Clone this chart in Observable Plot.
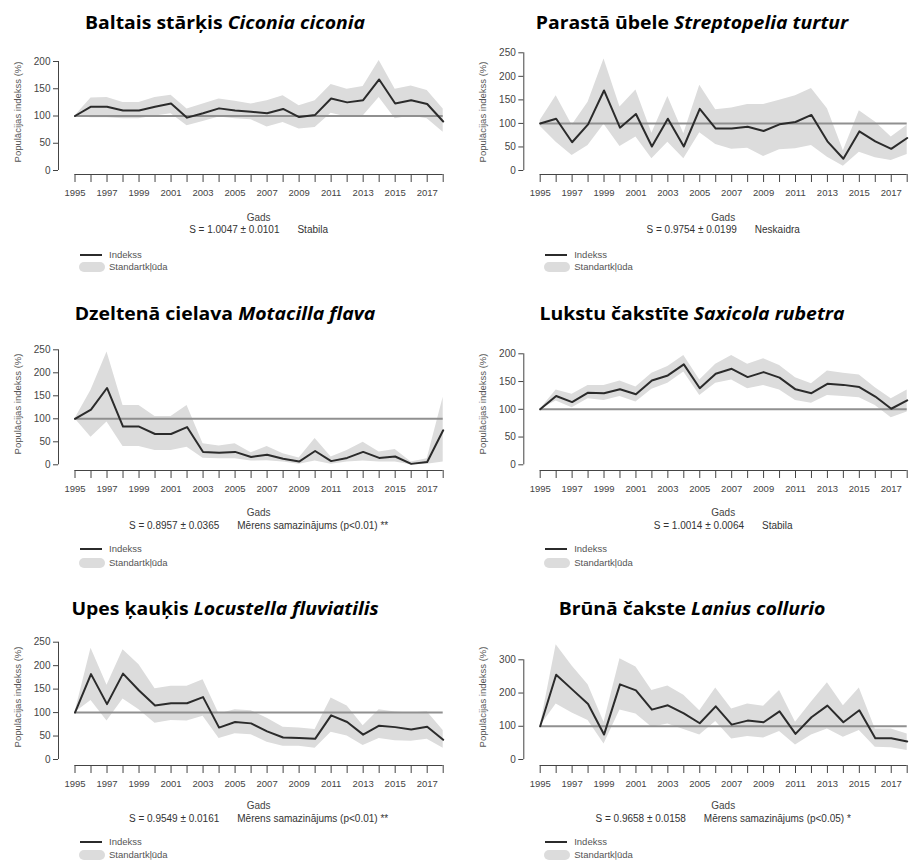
<!DOCTYPE html>
<html><head><meta charset="utf-8">
<script src="https://cdn.jsdelivr.net/npm/d3@7"></script>
<script src="https://cdn.jsdelivr.net/npm/@observablehq/plot@0.6"></script>
<style>
body{margin:0;background:#fff;}
#root{position:relative;width:915px;height:861px;overflow:hidden;font-family:"Liberation Sans",Arial,sans-serif;color:#333;}
.a{position:absolute;white-space:pre;line-height:1;}
.c{transform:translate(-50%,-50%);}
.l{transform:translate(0,-50%);}
.title{font-family:"Open Sans",sans-serif;font-weight:700;color:#000;font-size:18.5px;}
.title i{font-style:italic;}
svg{position:absolute;overflow:visible;}
</style></head><body><div id="root"></div>
<script>
// ---------- data ----------
const years = [1995,1996,1997,1998,1999,2000,2001,2002,2003,2004,2005,2006,2007,2008,2009,2010,2011,2012,2013,2014,2015,2016,2017,2018];
const xLabels = [1995,1997,1999,2001,2003,2005,2007,2009,2011,2013,2015,2017];
const baseIndex = 100;

const commonNames = ["Baltais stārķis","Parastā ūbele","Dzeltenā cielava","Lukstu čakstīte","Upes ķauķis","Brūnā čakste"];
const latinNames = ["Ciconia ciconia","Streptopelia turtur","Motacilla flava","Saxicola rubetra","Locustella fluviatilis","Lanius collurio"];
const slopeTexts = ["S = 1.0047 ± 0.0101","S = 0.9754 ± 0.0199","S = 0.8957 ± 0.0365","S = 1.0014 ± 0.0064","S = 0.9549 ± 0.0161","S = 0.9658 ± 0.0158"];
const trendTexts = ["Stabila","Neskaidra","Mērens samazinājums (p<0.01) **","Stabila","Mērens samazinājums (p<0.01) **","Mērens samazinājums (p<0.05) *"];
const yLabel = "Populācijas indekss (%)";
const xLabel = "Gads";
const legendLine = "Indekss";
const legendBand = "Standartkļūda";

const ciconiaIndex = [100,117,117,110,110,117,123,97,105,114,110,108,105,113,98,102,132,125,129,167,123,129,122,90];
const ciconiaUpper = [100,133,134,125,125,134,138,113,122,131,127,122,128,137,119,128,158,149,154,202,149,155,147,113];
const ciconiaLower = [100,97,97,95,95,100,104,82,90,98,95,93,80,88,76,79,105,98,100,134,95,100,95,70];

const streptopeliaIndex = [100,110,60,98,170,91,120,51,110,51,131,89,89,93,84,98,103,118,62,25,83,62,46,69];
const streptopeliaUpper = [106,159,96,145,237,135,171,79,157,78,181,129,133,140,140,149,159,174,131,42,127,103,71,96];
const streptopeliaLower = [94,60,32,53,98,51,71,25,60,25,80,55,45,47,30,44,46,53,28,9,39,27,21,34];

const motacillaIndex = [100,120,167,83,83,67,67,82,28,26,28,17,22,13,7,30,8,15,28,15,18,2,6,75];
const motacillaUpper = [100,162,245,129,129,105,105,129,46,41,46,26,40,24,15,57,17,31,49,28,33,6,13,147];
const motacillaLower = [100,60,93,40,40,31,31,38,14,13,13,8,9,6,1,8,1,6,8,6,6,0,1,6];

const saxicolaIndex = [100,124,113,130,129,136,127,152,161,181,138,164,173,158,167,157,136,129,146,144,140,123,101,116];
const saxicolaUpper = [100,135,127,143,143,151,140,165,177,197,153,181,197,181,191,179,157,146,169,165,162,139,119,135];
const saxicolaLower = [100,115,103,119,116,123,113,136,147,167,125,147,153,137,143,135,116,111,125,123,121,107,85,95];

const locustellaIndex = [100,182,118,183,147,115,120,120,133,68,80,77,60,47,46,44,94,80,53,72,69,64,70,42];
const locustellaUpper = [100,237,158,234,202,151,156,156,170,97,106,104,88,69,67,64,131,114,72,106,101,99,102,62];
const locustellaLower = [100,126,82,129,106,77,83,82,92,45,55,53,37,28,28,24,58,50,30,45,40,39,43,24];

const laniusIndex = [100,255,211,167,75,226,208,150,163,139,109,160,105,117,112,145,77,127,162,112,148,64,64,54];
const laniusUpper = [100,345,281,225,112,303,278,208,221,193,147,215,152,167,160,208,112,173,231,162,215,92,92,77];
const laniusLower = [100,167,140,117,47,149,137,97,107,90,74,114,62,69,65,84,44,74,92,67,87,37,35,27];

const yTicks1 = [0,50,100,150,200];
const yTicks2 = [0,50,100,150,200,250];
const yTicks3 = [0,50,100,150,200,250];
const yTicks4 = [0,50,100,150,200];
const yTicks5 = [0,50,100,150,200,250];
const yTicks6 = [0,100,200,300];

const indexSeries = [ciconiaIndex, streptopeliaIndex, motacillaIndex, saxicolaIndex, locustellaIndex, laniusIndex];
const upperSeries = [ciconiaUpper, streptopeliaUpper, motacillaUpper, saxicolaUpper, locustellaUpper, laniusUpper];
const lowerSeries = [ciconiaLower, streptopeliaLower, motacillaLower, saxicolaLower, locustellaLower, laniusLower];
const yTickSets = [yTicks1, yTicks2, yTicks3, yTicks4, yTicks5, yTicks6];

// ---------- layout (page pixels) ----------
const rows = [
  {titleY:22, y0:170, axisLine:174, gadsY:218, sY:230, leg1:255, leg2:267, labY:112},
  {titleY:313, y0:464.3, axisLine:470, gadsY:512.7, sY:525.7, leg1:549, leg2:562.7, labY:404},
  {titleY:608.3, y0:759, axisLine:765, gadsY:805.7, sY:819.3, leg1:842, leg2:855, labY:697}
];
const cols = [
  {L:0, axisX:58, x0:74.5, x1:442.7, titleX:225, labX:18},
  {L:457, axisX:523.3, x0:539.7, x1:906.7, titleX:692, labX:483}
];
const yTopPx = [61, 52.3, 349.3, 353.3, 641.7, 659.3];

const BAND = "#dcdcdc", LINE = "#2b2b2b", REF = "#909090", AXIS = "#444";

const root = document.getElementById("root");
function addDiv(cls, x, y, html, extra) {
  const d = document.createElement("div");
  d.className = "a " + cls;
  d.style.left = x + "px";
  d.style.top = y + "px";
  d.innerHTML = html;
  if (extra) Object.assign(d.style, extra);
  root.appendChild(d);
  return d;
}

const titleDivs = [];
for (let i = 0; i < 6; i++) {
  const r = rows[Math.floor(i / 2)], c = cols[i % 2];
  const yt = yTickSets[i];
  const data = years.map((year, j) => ({year, index: indexSeries[i][j], upper: upperSeries[i][j], lower: lowerSeries[i][j]}));
  const svgTop = yTopPx[i] - 10;
  const mb = 30;
  const height = Math.round(r.axisLine - svgTop + mb);
  const top = r.axisLine + mb - height;
  const W = 457;
  const chart = Plot.plot({
    width: W, height,
    marginLeft: c.axisX - c.L, marginRight: 4, marginTop: 6, marginBottom: mb,
    style: {fontFamily: '"Liberation Sans", Arial, sans-serif', fontSize: "10px", color: "#333", background: "none", overflow: "visible"},
    x: {domain: [years[0], years[years.length - 1]], range: [c.x0 - c.L, c.x1 - c.L]},
    y: {domain: [0, yt[yt.length - 1]], range: [r.y0 - top, yTopPx[i] - top]},
    marks: [
      Plot.area(data, {x1: "year", y1: "lower", y2: "upper", fill: BAND}),
      Plot.ruleY([baseIndex], {x1: years[0], x2: years[years.length - 1], stroke: REF, strokeWidth: 2}),
      Plot.line(data, {x: "year", y: "index", stroke: LINE, strokeWidth: 2}),
      Plot.ruleX([years[0]], {y1: yt[0], y2: yt[yt.length - 1], dx: -(c.x0 - c.axisX), stroke: AXIS}),
      Plot.ruleY([yt[0]], {x1: years[0], x2: years[years.length - 1], dy: r.axisLine - r.y0, stroke: AXIS}),
      Plot.axisY({ticks: yt, tickSize: 5, tickPadding: 3, fontSize: 10, label: null, color: AXIS, tickFormat: d => String(d)}),
      Plot.axisX({ticks: years, tickSize: 8, tickPadding: 7, fontSize: 9.5, label: null, color: AXIS, tickFormat: d => xLabels.includes(d) ? String(d) : ""})
    ]
  });
  chart.style.left = c.L + "px";
  chart.style.top = top + "px";
  root.appendChild(chart);

  const cx = (c.x0 + c.x1) / 2;
  titleDivs.push(addDiv("c title", c.titleX, r.titleY, commonNames[i] + " <i>" + latinNames[i] + "</i>"));
  addDiv("c", c.labX, r.labY, yLabel, {fontSize: "9.5px", color: "#555", transform: "translate(-50%,-50%) rotate(-90deg)"});
  addDiv("c", cx, r.gadsY, xLabel, {fontSize: "10px", color: "#444"});
  addDiv("c", cx, r.sY, slopeTexts[i] + '<span style="display:inline-block;width:18px"></span>' + trendTexts[i], {fontSize: "10px", color: "#333"});
  addDiv("", c.x0 + 5, r.leg1 - 1, "", {width: "22px", height: "2px", background: LINE});
  addDiv("", c.x0 + 4, r.leg2 - 5, "", {width: "26px", height: "10px", background: BAND, borderRadius: "5px"});
  addDiv("l", c.x0 + 34.5, r.leg1, legendLine, {fontSize: "9.5px", color: "#555"});
  addDiv("l", c.x0 + 34.5, r.leg2, legendBand, {fontSize: "9.5px", color: "#555"});
}
// compress titles horizontally to match the reference's narrower type (first title spans 280px)
const w0 = titleDivs[0].getBoundingClientRect().width;
const sx = 280 / w0;
titleDivs.forEach(d => { d.style.transform = `translate(-50%,-50%) scaleX(${sx})`; });
</script>
</body></html>
